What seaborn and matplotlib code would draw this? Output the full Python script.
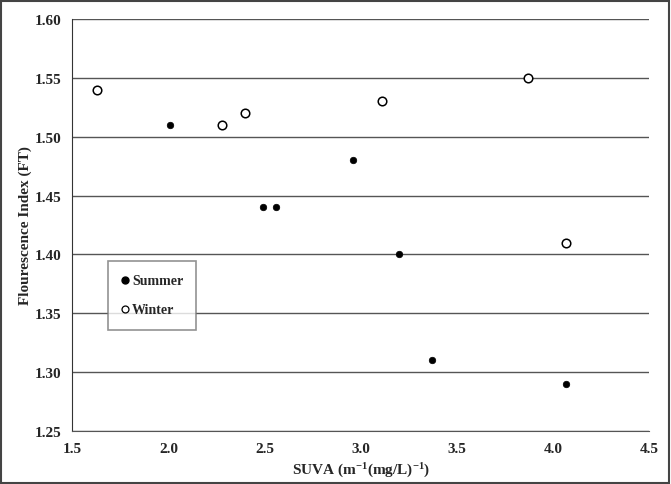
import pandas as pd
import numpy as np
import matplotlib.pyplot as plt
import seaborn as sns
from matplotlib.lines import Line2D
from matplotlib.patches import Rectangle

# values
summer_suva = [2.01, 2.49, 2.56, 2.96, 3.20, 3.37, 4.07]
summer_fi = [1.51, 1.44, 1.44, 1.48, 1.40, 1.31, 1.29]
winter_suva = [1.63, 2.28, 2.40, 3.11, 3.87, 4.07]
winter_fi = [1.54, 1.51, 1.52, 1.53, 1.55, 1.41]
x_ticks = [1.5, 2.0, 2.5, 3.0, 3.5, 4.0, 4.5]
y_ticks = [1.25, 1.30, 1.35, 1.40, 1.45, 1.50, 1.55, 1.60]

summer = pd.DataFrame({'SUVA': summer_suva, 'FI': summer_fi})
winter = pd.DataFrame({'SUVA': winter_suva, 'FI': winter_fi})

sns.set_style('white')
plt.rcParams['font.family'] = ['Liberation Serif', 'DejaVu Serif']
plt.rcParams['font.weight'] = 'bold'
plt.rcParams['mathtext.fontset'] = 'custom'
plt.rcParams['mathtext.rm'] = 'Liberation Serif:bold'
plt.rcParams['mathtext.default'] = 'rm'

fig = plt.figure(figsize=(6.71, 4.85), dpi=100)
ax = fig.add_axes([0.108, 0.109, 0.859, 0.850])

# horizontal grid lines like excel
for y in y_ticks:
    ax.axhline(y, color='#555555', linewidth=1.0, zorder=0)

sns.scatterplot(data=summer, x='SUVA', y='FI', ax=ax, color='black', s=22,
                edgecolor='black', linewidth=0.5, zorder=3)
sns.scatterplot(data=winter, x='SUVA', y='FI', ax=ax, facecolor='white', s=38,
                edgecolor='black', linewidth=1.1, zorder=3)

ax.set_xlim(1.5, 4.5)
ax.set_ylim(1.25, 1.60)
ax.set_xticks(x_ticks)
ax.set_yticks(y_ticks)
ax.set_xticklabels([f'{v:.1f}' for v in x_ticks], fontsize=11, fontweight='bold')
ax.set_yticklabels([f'{v:.2f}' for v in y_ticks], fontsize=11, fontweight='bold')
ax.tick_params(length=0, pad=8)

for side in ['top', 'right']:
    ax.spines[side].set_visible(False)
ax.spines['left'].set_color('#333333')
ax.spines['bottom'].set_color('#555555')

ax.set_xlabel('SUVA (m$^{-1}$(mg/L)$^{-1}$)', fontsize=11,
              fontweight='bold', labelpad=4)
ax.set_ylabel('Flourescence Index (FT)', fontsize=11, fontweight='bold', labelpad=2)

handles = [
    Line2D([], [], marker='o', linestyle='', color='black', markersize=5),
    Line2D([], [], marker='o', linestyle='', markerfacecolor='white',
           markeredgecolor='black', markersize=5, markeredgewidth=0.9),
]
leg = ax.legend(handles, ['Summer', 'Winter'], loc='upper left',
                bbox_to_anchor=(0.061, 0.412), frameon=True, fancybox=False,
                edgecolor='#777777', prop={'weight': 'bold', 'size': 10},
                handlelength=0.6, handletextpad=0.2, labelspacing=1.15,
                borderpad=0.95, borderaxespad=0)
leg.get_frame().set_linewidth(1.2)

# border around whole figure
fig.patches.append(Rectangle((0.002, 0.003), 0.995, 0.993, transform=fig.transFigure,
                             fill=False, edgecolor='#444444', linewidth=1.5))

fig.savefig('out.png', dpi=100)
